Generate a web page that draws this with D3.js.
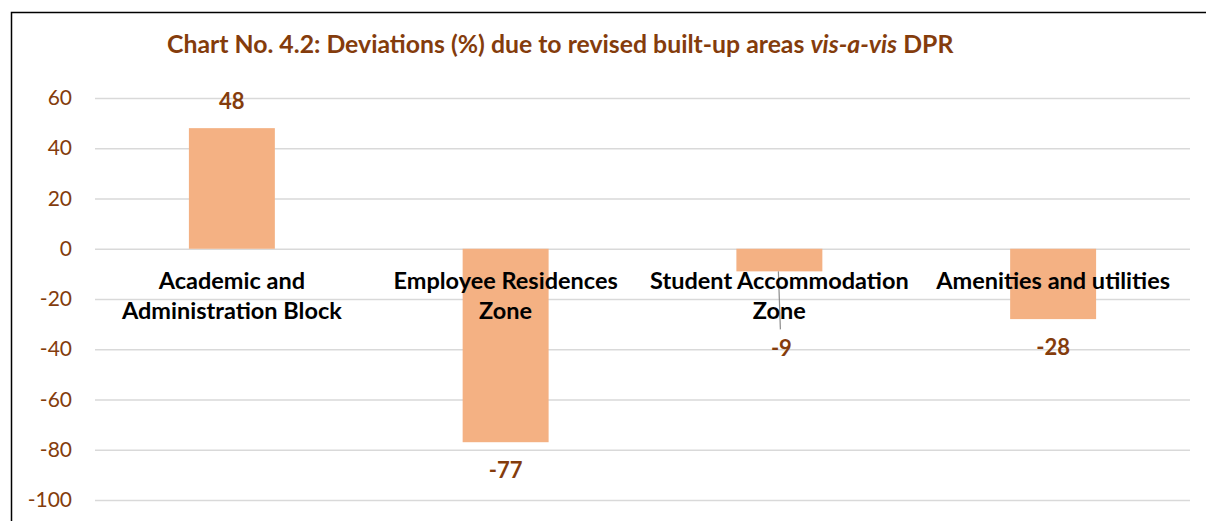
<!DOCTYPE html>
<html>
<head>
<meta charset="utf-8">
<script src="https://d3js.org/d3.v7.min.js"></script>
<style>
  body { margin: 0; background: #fff; }
  svg { display: block; }
</style>
</head>
<body>
<script>
const WIDTH = 1206;
const HEIGHT = 521;

var CATEGORIES = [
  ["Academic and", "Administration Block"],
  ["Employee Residences", "Zone"],
  ["Student Accommodation", "Zone"],
  ["Amenities and utilities"]
];
var VALUES = [48, -77, -9, -28];
var Y_TICKS = [60, 40, 20, 0, -20, -40, -60, -80, -100];

var BROWN = "#843C0C";
var FONT = "Lato, Calibri, 'Open Sans', sans-serif";

var margin = { left: 95, right: 16, top: 98, bottom: 21 };

//DEFINE xScale
var xScale = d3
  .scaleBand()
  .domain(d3.range(VALUES.length))
  .range([margin.left, WIDTH - margin.right])
  .paddingInner(0.686)
  .paddingOuter(0.343);

//DEFINE yScale
var yScale = d3
  .scaleLinear()
  .domain([60, -100])
  .range([margin.top, HEIGHT - margin.bottom]);

var svg = d3
  .select("body")
  .append("svg")
  .attr("width", WIDTH)
  .attr("height", HEIGHT);

//Frame (left and top edges visible)
svg.append("path")
  .attr("d", "M11.5," + HEIGHT + " V12.5 H" + WIDTH)
  .attr("fill", "none")
  .attr("stroke", "#000")
  .attr("stroke-width", 1.5);

//Title
var title = svg.append("text")
  .attr("x", 167)
  .attr("y", 53)
  .attr("font-family", FONT)
  .attr("font-size", "24.8px")
  .attr("font-weight", "bold")
  .attr("fill", BROWN);
title.append("tspan").text("Chart No. 4.2: Deviations (%) due to revised built-up areas ");
title.append("tspan").attr("font-style", "italic").text("vis-a-vis");
title.append("tspan").text(" DPR");

//Gridlines + y axis labels
var yAxis = d3.axisLeft(yScale)
  .tickValues(Y_TICKS)
  .tickFormat((d) => String(d))
  .tickSize(-(WIDTH - margin.left - margin.right))
  .tickPadding(23);

var gy = svg.append("g")
  .attr("transform", "translate(" + margin.left + ",0)")
  .call(yAxis);
gy.select(".domain").remove();
gy.selectAll(".tick line")
  .attr("stroke", "#D9D9D9")
  .attr("stroke-width", 1.5);
gy.selectAll(".tick text")
  .attr("font-family", FONT)
  .attr("font-size", "21px")
  .attr("fill", BROWN);

//Bars
svg.selectAll("rect.bar")
  .data(VALUES)
  .enter()
  .append("rect")
  .attr("class", "bar")
  .attr("x", (d, i) => xScale(i))
  .attr("y", (d) => yScale(Math.max(0, d)))
  .attr("width", xScale.bandwidth())
  .attr("height", (d) => Math.abs(yScale(d) - yScale(0)))
  .attr("fill", "#F4B183");

//Leader line for the moved -9 label
var cx3 = xScale(2) + xScale.bandwidth() / 2;
svg.append("line")
  .attr("x1", cx3 - 1)
  .attr("y1", yScale(VALUES[2]))
  .attr("x2", cx3 + 1)
  .attr("y2", yScale(VALUES[2]) + 58)
  .attr("stroke", "#8C8C8C")
  .attr("stroke-width", 1.2);

//Category labels
var cats = svg.selectAll("text.cat")
  .data(CATEGORIES)
  .enter()
  .append("text")
  .attr("class", "cat")
  .attr("text-anchor", "middle")
  .attr("font-family", FONT)
  .attr("font-size", "23.5px")
  .attr("font-weight", "bold")
  .attr("fill", "#000");
cats.selectAll("tspan")
  .data((d, i) => d.map((t) => ({ t: t, i: i })))
  .enter()
  .append("tspan")
  .attr("x", (d) => xScale(d.i) + xScale.bandwidth() / 2)
  .attr("y", (d, j) => yScale(0) + 40 + j * 30)
  .text((d) => d.t);

//Value labels
svg.selectAll("text.val")
  .data(VALUES)
  .enter()
  .append("text")
  .attr("class", "val")
  .text((d) => d)
  .attr("text-anchor", "middle")
  .attr("x", (d, i) => xScale(i) + xScale.bandwidth() / 2 + (i === 2 ? 2 : 0))
  .attr("y", (d, i) => i === 2 ? yScale(d) + 85 : (d >= 0 ? yScale(d) - 19 : yScale(d) + 36))
  .attr("font-family", FONT)
  .attr("font-size", "22px")
  .attr("font-weight", "bold")
  .attr("fill", BROWN);
</script>
</body>
</html>
